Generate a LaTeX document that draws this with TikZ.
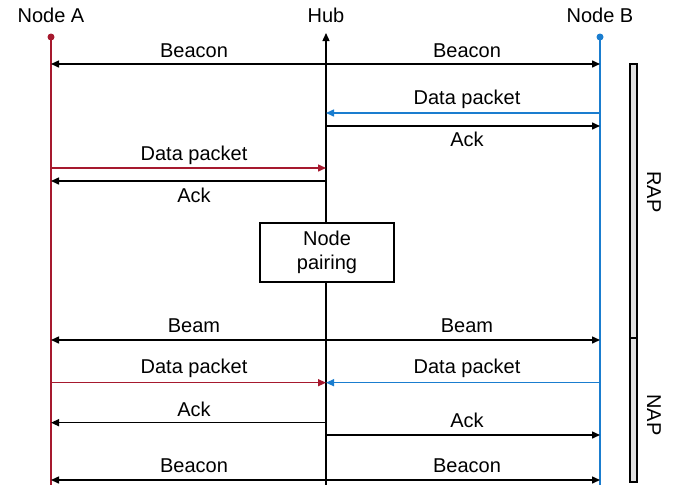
\documentclass[tikz,border=0pt]{standalone}
\usepackage{fontspec}
\setmainfont{Liberation Sans}
\usetikzlibrary{arrows.meta}
\definecolor{ared}{HTML}{A6192E}
\definecolor{bblue}{HTML}{1A7DCF}
\definecolor{barfill}{HTML}{E0E0E0}
\begin{document}
\begin{tikzpicture}[x=1pt,y=-1pt,
  txt/.style={font=\fontsize{20}{23.5}\selectfont},
  lbl/.style={txt, anchor=base, inner sep=0pt},
  life/.style={line width=1.3pt},
  tip/.tip={Triangle[length=8pt,width=7pt]},
  msg/.style={line width=1.5pt, -tip},
  bmsg/.style={line width=1.5pt, tip-tip},
  dot/.style={circle, inner sep=0pt, minimum size=7pt},
  bar/.style={draw, line width=1.3pt, fill=barfill}]
\useasboundingbox (0,0) rectangle (678,485);
% headers
\node[lbl] (tA) at (51,22.7) {Node A};
\node[lbl] (tH) at (326,22.7) {Hub};
\node[lbl] (tB) at (600,22.7) {Node B};
% lifelines
\node[dot, fill=ared] (dA) at (51,37) {};
\node[dot, fill=bblue] (dB) at (600,37) {};
\coordinate (eA) at (51,485);
\coordinate (eB) at (600,485);
\coordinate (hT) at (326,33);
\coordinate (hE) at (326,485);
\draw[life, ared] (dA.center) -- (eA);
\draw[life, bblue] (dB.center) -- (eB);
\draw[life, -tip] (hE) -- (hT);
% node pairing box
\node[draw, line width=1.3pt, fill=white, minimum width=134pt, minimum height=59pt,
      align=center, txt, inner sep=0pt] (np) at (327,252.5) {Node\\pairing};
% row coordinates
\foreach \n/\y in {1/64,2/113,3/126,4/168,5/181,6/340,7/382.7,8/422.7,9/435,10/480}{
  \coordinate (a\n) at (51,\y);
  \coordinate (h\n) at (326,\y);
  \coordinate (b\n) at (600,\y);
}
% messages
\draw[bmsg] (a1) -- (b1);
\node[lbl] (l1a) at (194,57) {Beacon};
\node[lbl] (l1b) at (467,57) {Beacon};
\draw[msg, bblue] (b2) -- (h2);
\node[lbl] (l2) at (467,104.3) {Data packet};
\draw[msg] (h3) -- (b3);
\node[lbl] (l3) at (467,146) {Ack};
\draw[msg, ared] (a4) -- (h4);
\node[lbl] (l4) at (194,160.5) {Data packet};
\draw[msg] (h5) -- (a5);
\node[lbl] (l5) at (194,202) {Ack};
\draw[bmsg] (a6) -- (b6);
\node[lbl] (l6a) at (194,332) {Beam};
\node[lbl] (l6b) at (467,332) {Beam};
\draw[msg, ared] (a7) -- (h7);
\draw[msg, bblue] (b7) -- (h7);
\node[lbl] (l7a) at (194,373.5) {Data packet};
\node[lbl] (l7b) at (467,373.5) {Data packet};
\draw[msg] (h8) -- (a8);
\node[lbl] (l8) at (194,416) {Ack};
\draw[msg] (h9) -- (b9);
\node[lbl] (l9) at (467,427.5) {Ack};
\draw[bmsg] (a10) -- (b10);
\node[lbl] (l10a) at (194,472.5) {Beacon};
\node[lbl] (l10b) at (467,472.5) {Beacon};
% phase bar
\draw[bar] (630,64) rectangle (637,338);
\draw[bar] (630,338) rectangle (637,482);
\node[txt, rotate=-90] (rap) at (654,192) {RAP};
\node[txt, rotate=-90] (nap) at (654,415) {NAP};
\end{tikzpicture}
\end{document}
